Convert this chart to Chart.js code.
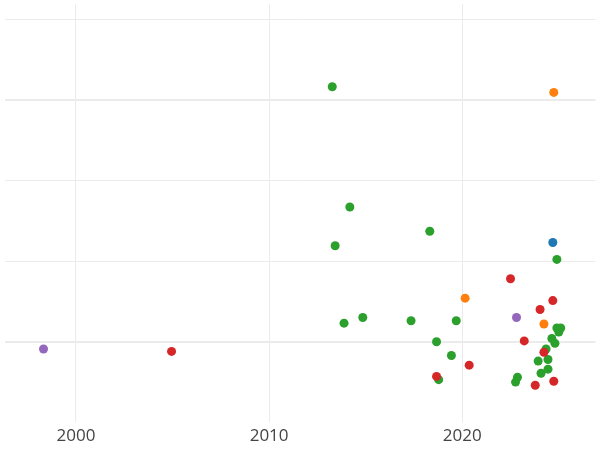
<!DOCTYPE html>
<html>
<head>
<script src="https://cdn.jsdelivr.net/npm/chart.js@4"></script>
<style>
  body { margin: 0; background: #fff; }
  #wrap { width: 600px; height: 450px; }
</style>
</head>
<body>
<div id="wrap"><canvas id="chart"></canvas></div>
<script>
// values: [year, value]
let greenPoints = [
  [2013.27, 3.16], [2014.18, 1.67], [2013.42, 1.19], [2018.32, 1.37], [2024.90, 1.02],
  [2013.88, 0.23], [2014.85, 0.30], [2017.35, 0.26], [2019.69, 0.26], [2018.67, 0.0],
  [2019.44, -0.17], [2018.78, -0.47], [2022.86, -0.44], [2022.76, -0.50], [2023.93, -0.24],
  [2024.08, -0.39], [2024.44, -0.34], [2024.44, -0.22], [2024.34, -0.09], [2024.64, 0.04],
  [2024.80, -0.02], [2024.90, 0.17], [2025.10, 0.17], [2025.0, 0.12]
];
let redPoints = [
  [2004.95, -0.12], [2022.50, 0.78], [2024.69, 0.51], [2024.03, 0.40], [2023.21, 0.01],
  [2024.23, -0.13], [2018.67, -0.43], [2020.36, -0.29], [2023.78, -0.54], [2024.74, -0.49]
];
let orangePoints = [[2024.74, 3.09], [2020.15, 0.54], [2024.23, 0.22]];
let bluePoints = [[2024.69, 1.23]];
let purplePoints = [[1998.32, -0.09], [2022.81, 0.30]];
let xTicks = [2000, 2010, 2020];
let yTicks = [0, 1, 2, 3, 4];

function toXY(list) {
  return list.map(p => ({ x: p[0], y: p[1] }));
}

function series(list, color) {
  return {
    data: toXY(list),
    backgroundColor: color,
    borderWidth: 0,
    pointRadius: 4.5
  };
}

let ctx = document.getElementById('chart').getContext('2d');

new Chart(ctx, {
  type: 'scatter',
  data: {
    datasets: [
      series(purplePoints, '#9467bd'),
      series(bluePoints, '#1f77b4'),
      series(orangePoints, '#ff7f0e'),
      series(redPoints, '#d62728'),
      series(greenPoints, '#2ca02c')
    ]
  },
  options: {
    animation: false,
    responsive: true,
    maintainAspectRatio: false,
    layout: { padding: 0 },
    plugins: { legend: { display: false }, tooltip: { enabled: false } },
    scales: {
      x: {
        type: 'linear',
        min: 1996.3,
        max: 2026.9,
        afterBuildTicks: axis => { axis.ticks = xTicks.map(v => ({ value: v })); },
        grid: { color: '#ebebeb', lineWidth: 1, drawTicks: false },
        border: { display: false },
        ticks: {
          color: '#444',
          font: { family: 'Open Sans', size: 17 },
          padding: 4,
          maxRotation: 0,
          callback: v => String(v)
        }
      },
      y: {
        min: -0.99,
        max: 4.18,
        afterBuildTicks: axis => { axis.ticks = yTicks.map(v => ({ value: v })); },
        grid: {
          color: '#ebebeb',
          lineWidth: c => (c.tick && (c.tick.value === 0 || c.tick.value === 3)) ? 2 : 1,
          drawTicks: false
        },
        border: { display: false },
        ticks: { display: false }
      }
    }
  }
});
</script>
</body>
</html>
